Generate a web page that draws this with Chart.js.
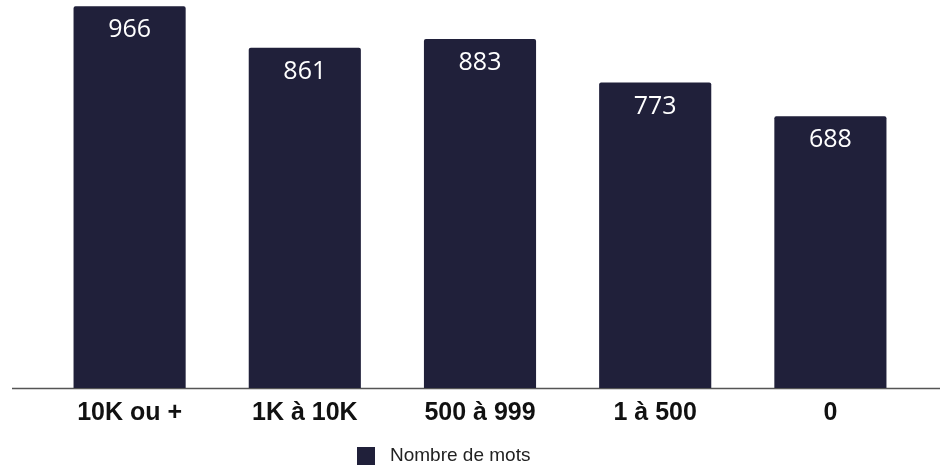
<!DOCTYPE html>
<html>
<head>
<meta charset="utf-8">
<script src="https://cdn.jsdelivr.net/npm/chart.js@4"></script>
<style>
  html, body { margin: 0; padding: 0; background: #fff; }
  #wrap { width: 940px; height: 465px; }
</style>
</head>
<body>
<div id="wrap"><canvas id="motsChart" width="940" height="465"></canvas></div>
<script>
// données
const categories = ['10K ou +', '1K à 10K', '500 à 999', '1 à 500', '0'];
const nombreMots = [966, 861, 883, 773, 688];
const serieNom = 'Nombre de mots';

const couleurBarre = '#20203a';

// ligne de base, étiquettes blanches dans les barres, légende
const valeursPlugin = {
    id: 'valeurs',
    beforeDatasetsDraw(chart) {
        const ctx = chart.ctx;
        const y0 = chart.scales.y.getPixelForValue(0);
        ctx.save();
        ctx.strokeStyle = '#555';
        ctx.lineWidth = 1.5;
        ctx.beginPath();
        ctx.moveTo(12, y0 + 0.5);
        ctx.lineTo(chart.width, y0 + 0.5);
        ctx.stroke();
        ctx.restore();
    },
    afterDatasetsDraw(chart) {
        const ctx = chart.ctx;
        const meta = chart.getDatasetMeta(0);
        ctx.save();
        ctx.fillStyle = '#ffffff';
        ctx.font = '25px "Open Sans"';
        ctx.textAlign = 'center';
        ctx.textBaseline = 'middle';
        meta.data.forEach((bar, i) => {
            ctx.fillText(nombreMots[i], bar.x, bar.y + 24);
        });
        // légende
        ctx.fillStyle = couleurBarre;
        ctx.fillRect(357, 447, 18, 18);
        ctx.fillStyle = '#222';
        ctx.font = '19px "Liberation Sans", Arial';
        ctx.textAlign = 'left';
        ctx.fillText(serieNom, 390, 456);
        ctx.restore();
    }
};

const ctx = document.getElementById('motsChart').getContext('2d');
new Chart(ctx, {
    type: 'bar',
    data: {
        labels: categories,
        datasets: [{
            label: serieNom,
            data: nombreMots,
            backgroundColor: couleurBarre,
            borderRadius: { topLeft: 2, topRight: 2 },
            borderSkipped: 'bottom',
            categoryPercentage: 0.64,
            barPercentage: 1
        }]
    },
    plugins: [valeursPlugin],
    options: {
        responsive: false,
        animation: false,
        layout: { padding: { left: 42, right: 22, top: 0, bottom: 0 } },
        scales: {
            x: {
                grid: { display: false },
                border: { display: false },
                afterFit(scale) { scale.height = 77; },
                ticks: {
                    color: '#111',
                    padding: 2,
                    font: { family: '"Liberation Sans", Arial', size: 25, weight: 'bold' }
                }
            },
            y: {
                display: false,
                min: 0,
                max: 982
            }
        },
        plugins: {
            tooltip: { enabled: false },
            legend: { display: false }
        }
    }
});
</script>
</body>
</html>
